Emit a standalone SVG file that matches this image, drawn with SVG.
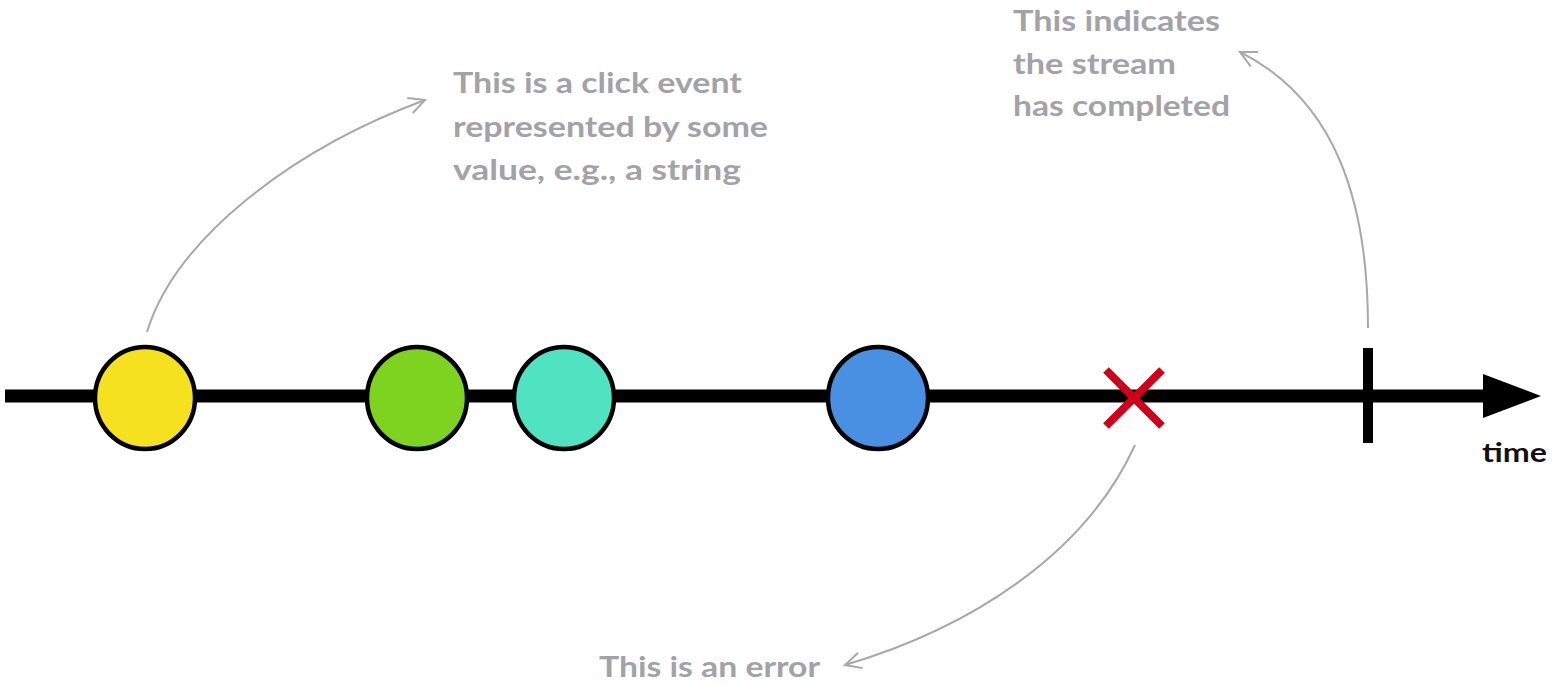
<svg xmlns="http://www.w3.org/2000/svg" width="1557" height="685" viewBox="0 0 1557 685">
<style>
.note{font-family:Lato,"Liberation Sans",sans-serif;font-weight:bold;font-size:29px;fill:#a2a2a8}
.ev{stroke:#000;stroke-width:4.5}
.conn{fill:none;stroke:#a8a8a8;stroke-width:2;marker-end:url(#open)}
</style>
<defs>
<marker id="open" viewBox="0 0 20 20" refX="18" refY="10" markerWidth="20" markerHeight="20" markerUnits="userSpaceOnUse" orient="auto">
<path d="M2,2 L18,10 L2,18" fill="none" stroke="#a8a8a8" stroke-width="2"/>
</marker>
</defs>
<rect width="1557" height="685" fill="#fff"/>
<g id="timeline">
<line x1="5" y1="396" x2="1490" y2="396" stroke="#000" stroke-width="13"/>
<polygon points="1483,374 1541,396 1483,418" fill="#000"/>
<text x="1482" y="462" font-family="Lato,'Liberation Sans',sans-serif" font-weight="bold" font-size="26" fill="#111" textLength="65" lengthAdjust="spacingAndGlyphs">time</text>
</g>
<g id="connectors">
<path class="conn" d="M147,332 C175,240 290,150 425,100"/>
<path class="conn" d="M1368,328 C1368,200 1335,100 1240,52"/>
<path class="conn" d="M1135,445 C1085,555 970,628 845,665"/>
</g>
<g id="ev-yellow"><ellipse class="ev" cx="145" cy="398" rx="50" ry="51" fill="#f5e11f"/></g>
<g id="ev-green"><ellipse class="ev" cx="417" cy="398" rx="50" ry="51" fill="#7ed321"/></g>
<g id="ev-teal"><ellipse class="ev" cx="564" cy="398" rx="50" ry="51" fill="#50e3c2"/></g>
<g id="ev-blue"><ellipse class="ev" cx="878" cy="398" rx="50" ry="51" fill="#4a90e2"/></g>
<g id="error"><path d="M1106,370 L1162,426 M1162,370 L1106,426" stroke="#d0021b" stroke-width="8"/></g>
<g id="complete"><line x1="1368" y1="348" x2="1368" y2="443" stroke="#000" stroke-width="10"/></g>
<g id="note-click">
<text class="note" x="453" y="93" textLength="289" lengthAdjust="spacingAndGlyphs">This is a click event</text>
<text class="note" x="453" y="137" textLength="315" lengthAdjust="spacingAndGlyphs">represented by some</text>
<text class="note" x="453" y="180" textLength="288" lengthAdjust="spacingAndGlyphs">value, e.g., a string</text>
</g>
<g id="note-complete">
<text class="note" x="1013" y="31" textLength="207" lengthAdjust="spacingAndGlyphs">This indicates</text>
<text class="note" x="1013" y="74" textLength="163" lengthAdjust="spacingAndGlyphs">the stream</text>
<text class="note" x="1013" y="116" textLength="217" lengthAdjust="spacingAndGlyphs">has completed</text>
</g>
<g id="note-error"><text class="note" x="599" y="677" textLength="221" lengthAdjust="spacingAndGlyphs">This is an error</text></g>
</svg>
